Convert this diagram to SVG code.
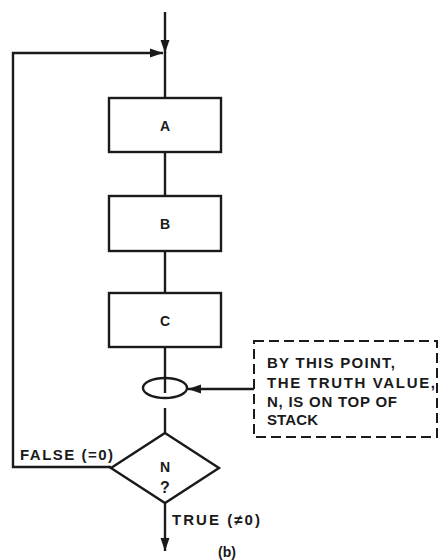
<svg xmlns="http://www.w3.org/2000/svg" width="441" height="560" viewBox="0 0 441 560">
<style>
.ln{fill:none;stroke:#1a1a1a;stroke-width:2.4}
.bx{fill:#fff;stroke:#1a1a1a;stroke-width:2.4}
.dash{fill:#fff;stroke:#1a1a1a;stroke-width:2;stroke-dasharray:10 5}
.t{font-family:"Liberation Sans",Arial,sans-serif;font-weight:bold;fill:#1a1a1a}
.lab{font-size:14px;text-anchor:middle}
.note{font-size:15px}
</style>
<defs>
<marker id="ah" markerUnits="userSpaceOnUse" markerWidth="14" markerHeight="10" refX="13" refY="5" orient="auto">
<path d="M0,0.5 L13,5 L0,9.5 Z" fill="#1a1a1a"/>
</marker>
</defs>
<rect width="441" height="560" fill="#fff"/>
<g id="connectors">
<path class="ln" d="M165,12 V53" marker-end="url(#ah)"/>
<path class="ln" d="M165,52 V98"/>
<path class="ln" d="M111,467 H13 V53 H163" marker-end="url(#ah)"/>
<path class="ln" d="M165,152 V196"/>
<path class="ln" d="M165,251 V293"/>
<path class="ln" d="M165,347 V393"/>
<path class="ln" d="M165,408 V433"/>
<path class="ln" d="M254,389 H188" marker-end="url(#ah)"/>
<path class="ln" d="M165,503 V551" marker-end="url(#ah)"/>
</g>
<g id="nodeA">
<rect class="bx" x="109" y="98" width="112" height="54"/>
<text class="t lab" x="165" y="131">A</text>
</g>
<g id="nodeB">
<rect class="bx" x="109" y="196" width="112" height="55"/>
<text class="t lab" x="165" y="229">B</text>
</g>
<g id="nodeC">
<rect class="bx" x="109" y="293" width="112" height="54"/>
<text class="t lab" x="165" y="326">C</text>
</g>
<g id="connectorPoint">
<ellipse cx="165" cy="388" rx="22" ry="10" fill="none" stroke="#1a1a1a" stroke-width="2.4"/>
</g>
<g id="decision">
<path class="bx" d="M165,433 L219,468 L165,503 L111,468 Z"/>
<text class="t lab" x="165" y="472">N</text>
<text class="t lab" x="165" y="493" style="font-size:16px">?</text>
</g>
<g id="note">
<rect class="dash" x="254" y="341" width="183" height="96"/>
<text class="t note" x="267" y="368" textLength="128" lengthAdjust="spacing">BY THIS POINT,</text>
<text class="t note" x="267" y="388" textLength="168" lengthAdjust="spacing">THE TRUTH VALUE,</text>
<text class="t note" x="267" y="407" textLength="130" lengthAdjust="spacing">N, IS ON TOP OF</text>
<text class="t note" x="267" y="425" textLength="51" lengthAdjust="spacing">STACK</text>
</g>
<g id="labels">
<text class="t note" x="20" y="460" textLength="93" lengthAdjust="spacing">FALSE (=0)</text>
<text class="t note" x="172" y="525" textLength="88" lengthAdjust="spacing">TRUE (≠0)</text>
<text class="t" x="227" y="557" style="font-size:14px;text-anchor:middle">(b)</text>
</g>
</svg>
